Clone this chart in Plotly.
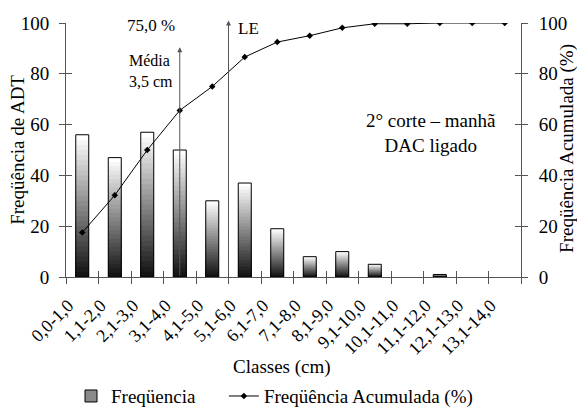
import plotly.graph_objects as go

classes = ["0,0-1,0", "1,1-2,0", "2,1-3,0", "3,1-4,0", "4,1-5,0", "5,1-6,0", "6,1-7,0",
           "7,1-8,0", "8,1-9,0", "9,1-10,0", "10,1-11,0", "11,1-12,0", "12,1-13,0", "13,1-14,0"]
freq = [56, 47, 57, 50, 30, 37, 19, 8, 10, 5, 0, 1, 0, 0]
cum_pct = [17.5, 32.2, 50.0, 65.6, 75.0, 86.6, 92.5, 95.0, 98.1, 99.7, 99.7, 100, 100, 100]
y_ticks = [0, 20, 40, 60, 80, 100]

FONT = "Liberation Serif"
AX = "#555555"
fig = go.Figure()

freq_drawn = [v if v else None for v in freq]

# gradient bars (stepped overlay: white top -> dark bottom)
N = 28
for k in range(N):
    frac = (N - k) / N
    t = k / (N - 1)
    g = int(255 - t * (255 - 20))
    fig.add_trace(go.Bar(
        x=classes, y=[None if v is None else v * frac for v in freq_drawn], width=0.4,
        marker=dict(color=f"rgb({g},{g},{g})", line=dict(width=0)),
        showlegend=False, hoverinfo="skip"))

fig.add_trace(go.Bar(
    x=classes, y=freq_drawn, width=0.4, name="Freqüencia", showlegend=False,
    marker=dict(color="rgba(0,0,0,0)", line=dict(color="black", width=1))))
# legend proxy
fig.add_trace(go.Bar(x=[classes[0]], y=[None], name="Freqüencia",
                     marker=dict(color="#8a8a8a", line=dict(color="black", width=1)),
                     showlegend=True, legend="legend"))

fig.add_trace(go.Scatter(
    x=classes, y=cum_pct, yaxis="y2", mode="lines+markers",
    name="Freqüência Acumulada (%)", legend="legend2",
    line=dict(color="black", width=1),
    marker=dict(symbol="diamond", size=5, color="black")))

# inside ticks helpers
fig.add_trace(go.Scatter(x=[0], y=[None], xaxis="x2", yaxis="y3", showlegend=False, hoverinfo="skip"))
fig.add_trace(go.Scatter(x=[0], y=[None], xaxis="x2", yaxis="y4", showlegend=False, hoverinfo="skip"))

tickfont = dict(family=FONT, size=19, color="black")
legfont = dict(family=FONT, size=19, color="black")

fig.update_layout(
    width=577, height=400,
    margin=dict(l=58, r=64, t=15, b=131, autoexpand=False),
    paper_bgcolor="white", plot_bgcolor="white",
    barmode="overlay",
    font=dict(family=FONT, size=19, color="black"),
    xaxis=dict(type="category", range=[-0.5, 13.5], tickson="boundaries",
               ticks="outside", ticklen=6, tickcolor=AX, showline=True, linecolor=AX,
               linewidth=1, tickangle=-45, tickfont=dict(family=FONT, size=18, color="black"),
               ticklabelshift=-14, ticklabelstandoff=10,
               showgrid=False, zeroline=False, automargin=False),
    xaxis2=dict(overlaying="x", range=[-0.5, 13.5], tick0=0.5, dtick=1, ticks="inside",
                ticklen=6, tickcolor=AX, showticklabels=False, showline=False,
                showgrid=False, zeroline=False, side="bottom", automargin=False),
    yaxis=dict(range=[0, 100], tickvals=y_ticks, ticks="outside", ticklen=6, tickcolor=AX,
               showline=True, linecolor=AX, linewidth=1, tickfont=tickfont,
               ticklabelstandoff=6,
               showgrid=False, zeroline=False, automargin=False),
    yaxis2=dict(range=[0, 100], tickvals=y_ticks, overlaying="y", side="right",
                ticks="outside", ticklen=6, tickcolor=AX, showline=True, linecolor=AX,
                linewidth=1, tickfont=tickfont, ticklabelstandoff=7,
                showgrid=False, zeroline=False, automargin=False),
    yaxis3=dict(range=[0, 100], tickvals=y_ticks, overlaying="y", side="left", anchor="x2",
                ticks="inside", ticklen=6, tickcolor=AX, showticklabels=False,
                showline=False, showgrid=False, zeroline=False, automargin=False),
    yaxis4=dict(range=[0, 100], tickvals=y_ticks, overlaying="y", side="right", anchor="x2",
                ticks="inside", ticklen=6, tickcolor=AX, showticklabels=False,
                showline=False, showgrid=False, zeroline=False, automargin=False),
    legend=dict(orientation="h", x=0.011, xanchor="left", y=-0.469, yanchor="middle",
                font=legfont, itemwidth=30, bgcolor="rgba(0,0,0,0)"),
    legend2=dict(orientation="h", x=0.347, xanchor="left", y=-0.469, yanchor="middle",
                 font=legfont, itemwidth=30, bgcolor="rgba(0,0,0,0)"),
    showlegend=True,
)

# axis titles
fig.add_annotation(x=0.475, y=-0.354, xref="paper", yref="paper", text="Classes (cm)",
                   xanchor="center", yanchor="middle",
                   showarrow=False, font=dict(family=FONT, size=19))
fig.add_annotation(x=-0.108, y=0.5, xref="paper", yref="paper", text="Freqüência de ADT",
                   xanchor="center", yanchor="middle",
                   textangle=-90, showarrow=False, font=dict(family=FONT, size=19))
fig.add_annotation(x=1.101, y=0.508, xref="paper", yref="paper", text="Freqüência Acumulada (%)",
                   xanchor="center", yanchor="middle", borderpad=0,
                   textangle=-90, showarrow=False, font=dict(family=FONT, size=19))

arrow = dict(showarrow=True, arrowhead=2, arrowsize=1, arrowwidth=1, arrowcolor=AX,
             axref="x", ayref="y", xref="x", yref="y", text="")
# Média arrow
fig.add_annotation(x=3, y=90.5, ax=3, ay=0, **arrow)
# LE arrow
fig.add_annotation(x=4.5, y=101, ax=4.5, ay=0, **arrow)
# 75% double arrow
fig.add_annotation(x=4.5, y=105, ax=-0.5, ay=105, arrowside="end+start", **arrow)

txt = dict(xref="paper", yref="paper", showarrow=False, yanchor="middle")
fig.add_annotation(x=0.187, y=0.992, text="75,0 %", xanchor="center",
                   font=dict(family=FONT, size=17), **txt)
fig.add_annotation(x=0.374, y=0.980, text="LE", xanchor="left",
                   font=dict(family=FONT, size=17), **txt)
fig.add_annotation(x=0.134, y=0.811, text="Média<br>3,5 cm", xanchor="left", align="left",
                   font=dict(family=FONT, size=16), **txt)
fig.add_annotation(x=0.802, y=0.567, text="2° corte – manhã<br>DAC ligado", xanchor="center",
                   align="center", font=dict(family=FONT, size=19), **txt)

fig.write_html("out.html")
